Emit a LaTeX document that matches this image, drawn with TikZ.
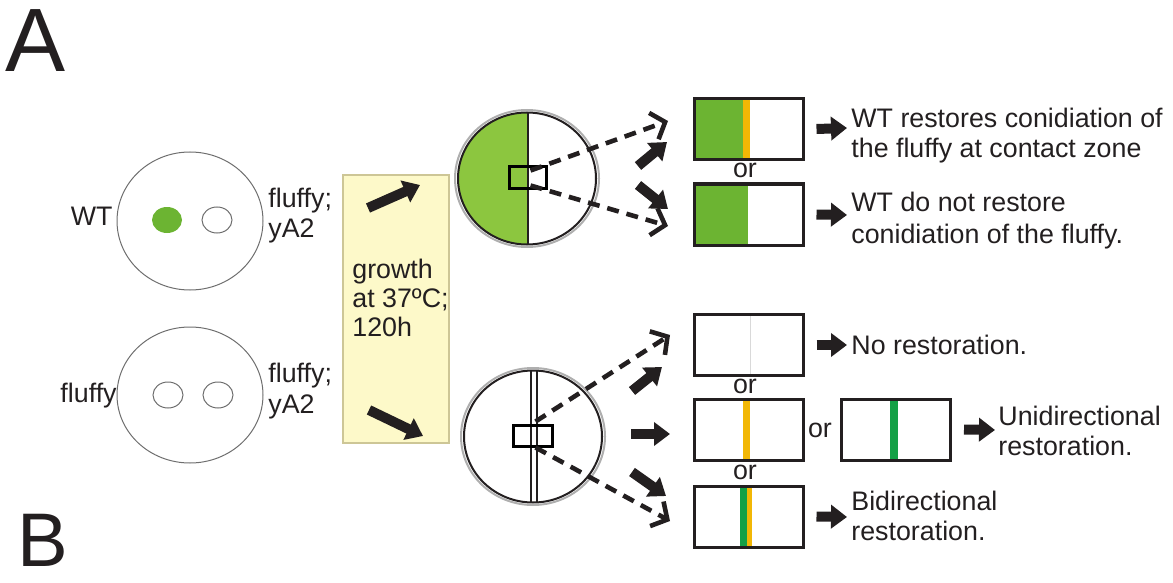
\documentclass[tikz,border=0pt]{standalone}
\usepackage{fontspec}
\setmainfont{Liberation Sans}
\usetikzlibrary{arrows.meta}
\definecolor{plategreen}{RGB}{140,198,63}
\definecolor{boxgreen}{RGB}{108,180,50}
\definecolor{bandyellow}{RGB}{242,183,5}
\definecolor{bandgreen}{RGB}{20,160,70}
\definecolor{panelfill}{RGB}{253,249,201}
\definecolor{paneldraw}{RGB}{205,198,150}
\definecolor{dishgray}{RGB}{110,110,110}
\definecolor{rimgray}{RGB}{175,175,175}
\definecolor{ink}{RGB}{35,31,32}
\begin{document}
\begin{tikzpicture}[x=0.5pt,y=-0.5pt,
  lbl/.style={inner sep=0pt, text=ink, font=\fontsize{13.4}{15}\selectfont},
  big/.style={inner sep=0pt, text=ink, text depth=0pt, font=\fontsize{45}{50}\selectfont},
  dish/.style={draw=dishgray, line width=0.5pt},
  colony/.style={draw=dishgray, line width=0.5pt, fill=white},
  zone/.style={draw=black, line width=1.5pt, minimum width=18.5pt, minimum height=10.5pt, inner sep=0pt},
  result/.style={draw=ink, line width=1.5pt, minimum width=54.5pt, minimum height=30.5pt, inner sep=0pt},
  fat/.style={draw=ink, line width=5pt, -{Triangle[width=11.5pt,length=8pt]}},
  dasharr/.style={draw=ink, line width=2.3pt, dash pattern=on 6pt off 4pt, -{Straight Barb[length=6pt,width=14pt]}}
]
\useasboundingbox (0,0) rectangle (1173,583);

% panel letters
\node[big, anchor=base west] (lA) at (5,72) {A};
\node[big, anchor=base west, font=\fontsize{38}{42}\selectfont] (lB) at (17,566) {B};

% left dishes
\draw[dish] (190,221) ellipse [x radius=73, y radius=69];
\fill[boxgreen] (167,220) ellipse [x radius=15, y radius=13];
\draw[colony] (217,220) ellipse [x radius=15, y radius=13];
\draw[dish] (190,395) ellipse [x radius=73, y radius=68];
\draw[colony] (168,395) ellipse [x radius=15, y radius=13];
\draw[colony] (218,395) ellipse [x radius=15, y radius=13];

\node[lbl, anchor=base east] (wt) at (113,226) {WT};
\node[lbl, anchor=base west] (f1) at (268,207) {fluffy;};
\node[lbl, anchor=base west] (y1) at (268,237) {yA2};
\node[lbl, anchor=base east] (fl) at (117,402) {fluffy};
\node[lbl, anchor=base west] (f2) at (268,382) {fluffy;};
\node[lbl, anchor=base west] (y2) at (268,413) {yA2};

% growth panel
\node[draw=paneldraw, fill=panelfill, line width=0.8pt, minimum width=53pt, minimum height=134pt, inner sep=0pt] (panel) at (396,309) {};
\node[lbl, anchor=base west] (g1) at (352,278) {growth};
\node[lbl, anchor=base west] (g2) at (352,307) {at 37ºC;};
\node[lbl, anchor=base west] (g3) at (352,336) {120h};
\coordinate (pa1) at (368,208); \coordinate (pb1) at (420,185);
\coordinate (pa2) at (369,410); \coordinate (pb2) at (423,436);
\draw[fat] (pa1) -- (pb1);
\draw[fat] (pa2) -- (pb2);

% upper confrontation dish
\begin{scope}
  \clip (440,100) rectangle (528,260);
  \fill[plategreen] (527,178.5) ellipse [x radius=69, y radius=66];
\end{scope}
\draw[draw=rimgray, line width=1pt] (527,178.5) ellipse [x radius=72, y radius=68.5];
\draw[draw=ink, line width=1pt] (527,178.5) ellipse [x radius=69, y radius=66];
\draw[draw=ink, line width=1pt] (528,112.5) -- (528,244.5);
\node[zone] (r1) at (527.5,177.5) {};

% lower confrontation dish
\draw[draw=rimgray, line width=1pt] (533,436.5) ellipse [x radius=72, y radius=68.5];
\draw[draw=ink, line width=1pt] (533,436.5) ellipse [x radius=69, y radius=66];
\draw[draw=ink, line width=0.6pt] (531,370.5) -- (531,502.5);
\draw[draw=ink, line width=0.6pt] (537,370.5) -- (537,502.5);
\node[zone, minimum width=19.5pt] (r2) at (532.5,435.5) {};

% dashed zoom arrows
\coordinate (t1) at (668,121); \coordinate (t2) at (668,226);
\coordinate (t3) at (670,335); \coordinate (t4) at (670,521);
\draw[dasharr] ([shift={(3,-7)}]r1.center) -- (t1);
\draw[dasharr] ([shift={(3,8)}]r1.center) -- (t2);
\draw[dasharr] ([shift={(3,-14)}]r2.center) -- (t3);
\draw[dasharr] ([shift={(3,12)}]r2.center) -- (t4);

% fat outcome arrows
\coordinate (u1a) at (638,166); \coordinate (u1b) at (667,142);
\coordinate (u2a) at (638,185); \coordinate (u2b) at (668,209);
\coordinate (l1a) at (632,391); \coordinate (l1b) at (662,367);
\coordinate (l2a) at (631,434); \coordinate (l2b) at (670,434);
\coordinate (l3a) at (632,472); \coordinate (l3b) at (666,496);
\draw[fat] (u1a) -- (u1b);
\draw[fat] (u2a) -- (u2b);
\draw[fat] (l1a) -- (l1b);
\draw[fat] (l2a) -- (l2b);
\draw[fat] (l3a) -- (l3b);

% result boxes (upper)
\fill[boxgreen] (694,98) rectangle (743,160);
\fill[bandyellow] (743,98) rectangle (750,160);
\node[result] (b1) at (748.5,129) {};
\node[lbl] (or1) at (745,170) {or};
\fill[boxgreen] (694,184) rectangle (748,245);
\node[result] (b2) at (748.5,214.5) {};

% result boxes (lower)
\draw[draw=black!15, line width=0.5pt] (750,315) -- (750,375);
\node[result] (b3) at (748.5,345) {};
\node[lbl] (or2) at (745,386) {or};
\fill[bandyellow] (743,399) rectangle (750,460);
\node[result] (b4) at (748.5,429.5) {};
\node[lbl] (or3) at (820,430) {or};
\fill[bandgreen] (890,399) rectangle (898,460);
\node[result] (b5) at (896,429.5) {};
\node[lbl] (or4) at (745,472) {or};
\fill[bandgreen] (740,486) rectangle (747,547);
\fill[bandyellow] (747,486) rectangle (752,547);
\node[result] (b6) at (748.5,516.5) {};

% text arrows
\coordinate (e1) at (847,128); \coordinate (e2) at (847,215);
\coordinate (e3) at (847,345); \coordinate (e5) at (995,430);
\coordinate (e6) at (847,517);
\draw[fat] ([xshift=6]b1.east) -- (e1);
\draw[fat] ([xshift=6]b2.east) -- (e2);
\draw[fat] ([xshift=6]b3.east) -- (e3);
\draw[fat] ([xshift=6]b5.east) -- (e5);
\draw[fat] ([xshift=6]b6.east) -- (e6);

% outcome texts
\node[lbl, anchor=base west] (o1a) at (851,127) {WT restores conidiation of};
\node[lbl, anchor=base west] (o1b) at (851,158) {the fluffy at contact zone};
\node[lbl, anchor=base west] (o2a) at (851,212) {WT do not restore};
\node[lbl, anchor=base west] (o2b) at (851,243) {conidiation of the fluffy.};
\node[lbl, anchor=base west] (o3) at (851,354) {No restoration.};
\node[lbl, anchor=base west] (o4a) at (998,425) {Unidirectional};
\node[lbl, anchor=base west] (o4b) at (998,455) {restoration.};
\node[lbl, anchor=base west] (o5a) at (851,510) {Bidirectional};
\node[lbl, anchor=base west] (o5b) at (851,540) {restoration.};
\end{tikzpicture}
\end{document}
